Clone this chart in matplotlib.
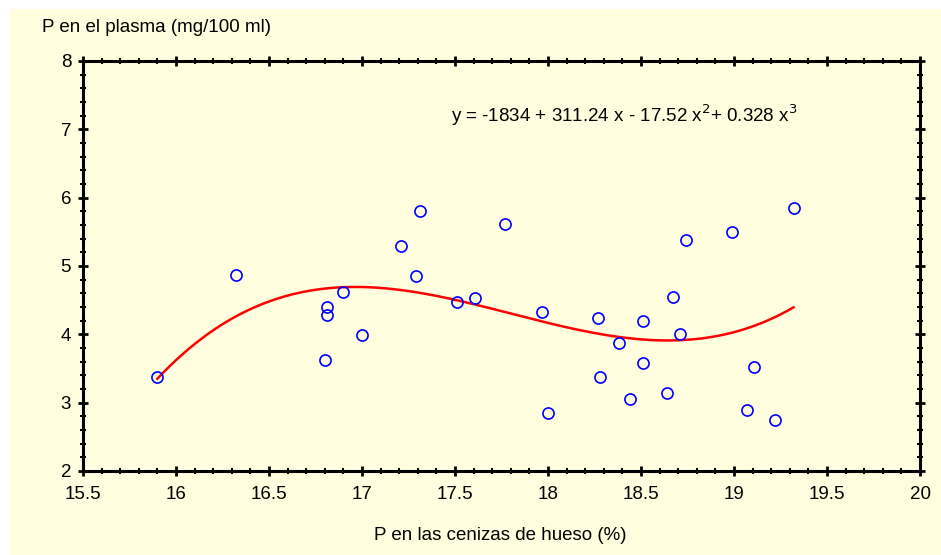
import numpy as np
import matplotlib.pyplot as plt
from matplotlib.patches import Rectangle
from matplotlib.ticker import MultipleLocator

plt.rcParams["font.family"] = ["Liberation Sans", "DejaVu Sans"]

# P en las cenizas de hueso (%) / P en el plasma (mg/100 ml)
ceniza = [15.90, 16.32, 16.80, 16.81, 16.81, 16.90, 17.00, 17.21, 17.29, 17.31,
          17.51, 17.61, 17.77, 17.97, 18.00, 18.27, 18.28, 18.38, 18.44, 18.51,
          18.51, 18.64, 18.67, 18.71, 18.74, 18.99, 19.07, 19.11, 19.22, 19.32]
plasma = [3.38, 4.87, 3.63, 4.28, 4.40, 4.62, 3.99, 5.29, 4.85, 5.80,
          4.48, 4.53, 5.61, 4.32, 2.85, 4.24, 3.37, 3.88, 3.05, 4.20,
          3.58, 3.14, 4.54, 4.00, 5.38, 5.50, 2.89, 3.52, 2.75, 5.85]

etiquetas_x = ["15.5", "16", "16.5", "17", "17.5", "18", "18.5", "19", "19.5", "20"]
ecuacion = "y = -1834 + 311.24 x - 17.52 x$^2$+ 0.328 x$^3$"

fondo = "#ffffe0"

fig = plt.figure(figsize=(9.41, 5.55), dpi=100)
fig.patch.set_facecolor("white")
fig.patches.append(Rectangle((10 / 941, 0), 1, 1 - 9 / 555, transform=fig.transFigure,
                             facecolor=fondo, edgecolor="none", zorder=-10))

ax = fig.add_axes([0.0882, 0.1514, 0.8895, 0.7387])
ax.set_facecolor(fondo)

# ajuste cubico
coef = np.polyfit(ceniza, plasma, 3)
xs = np.linspace(min(ceniza), max(ceniza), 300)
ax.plot(xs, np.polyval(coef, xs), color="red", lw=1.8, zorder=2)

ax.plot(ceniza, plasma, "o", mfc="none", mec="blue", ms=8, mew=1.2, zorder=3)

ax.set_xlim(15.5, 20)
ax.set_ylim(2, 8)
ax.set_xticks(np.arange(15.5, 20.01, 0.5))
ax.set_xticklabels(etiquetas_x)
ax.xaxis.set_minor_locator(MultipleLocator(0.1))
ax.yaxis.set_major_locator(MultipleLocator(1))
ax.yaxis.set_minor_locator(MultipleLocator(0.2))

for s in ax.spines.values():
    s.set_linewidth(2.2)
ax.tick_params(which="both", direction="inout", top=True, right=True,
               labelsize=13.5)
ax.tick_params(which="major", length=7, width=2)
ax.tick_params(which="minor", length=5, width=1.5)
ax.tick_params(axis="x", pad=7)
ax.tick_params(axis="y", pad=5)

ax.text(17.48, 7.2, ecuacion, fontsize=13.5, va="center", ha="left")

fig.text(42 / 941, 1 - 28 / 555, "P en el plasma (mg/100 ml)", fontsize=13.5,
         va="center", ha="left")
fig.text(500 / 941, 1 - 535 / 555, "P en las cenizas de hueso (%)", fontsize=13.5,
         va="center", ha="center")

fig.savefig("out.png", dpi=100, facecolor=fig.get_facecolor())
